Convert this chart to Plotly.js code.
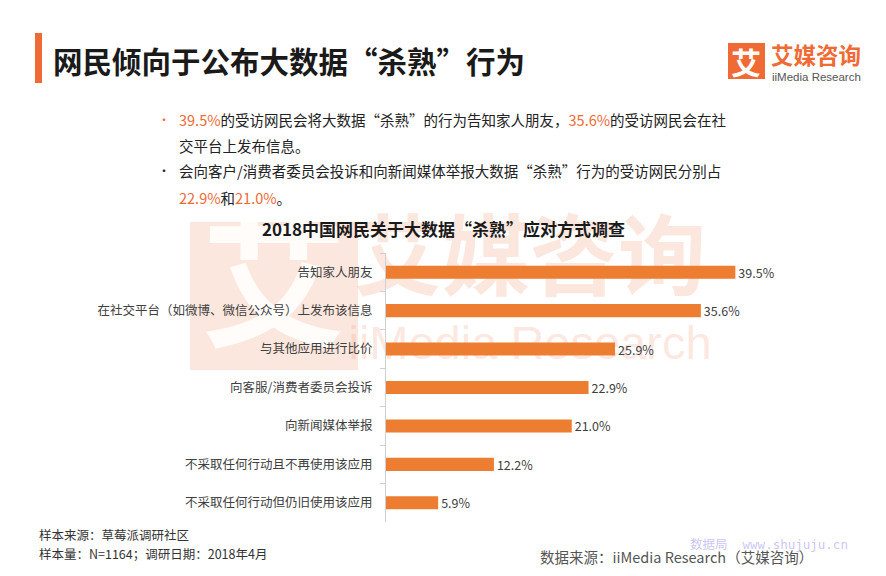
<!DOCTYPE html>
<html>
<head>
<meta charset="utf-8">
<script src="https://cdn.plot.ly/plotly-3.0.1.min.js"></script>
<style>
html,body{margin:0;padding:0;background:#fff;}
#chart{width:886px;height:576px;}
</style>
</head>
<body>
<div id="chart"></div>
<script>
// ---- data ----
const categories = [
  "告知家人朋友",
  "在社交平台（如微博、微信公众号）上发布该信息",
  "与其他应用进行比价",
  "向客服/消费者委员会投诉",
  "向新闻媒体举报",
  "不采取任何行动且不再使用该应用",
  "不采取任何行动但仍旧使用该应用"
];
const values = [39.5, 35.6, 25.9, 22.9, 21.0, 12.2, 5.9];
const valueLabels = ["39.5%", "35.6%", "25.9%", "22.9%", "21.0%", "12.2%", "5.9%"];

const pageTitle = "网民倾向于公布大数据“杀熟”行为";
const chartTitle = "2018中国网民关于大数据“杀熟”应对方式调查";
const sourceLines = ["样本来源：草莓派调研社区", "样本量：N=1164；调研日期：2018年4月"];
const dataSource = "数据来源：iiMedia Research（艾媒咨询）";

// ---- layout helpers (pixel -> paper) ----
const W = 886, H = 576;
const L = 386, R = 784, T = 253, B = 522;
const px = x => (x - L) / (R - L);
const py = y => (B - y) / (B - T);

const ORANGE = "#ed7d31";
const ACCENT = "#f06a35";
const WM = "rgba(240,110,60,0.17)";
const CJK = "'Noto Sans CJK SC', 'Noto Sans', sans-serif";

const trace = {
  type: "bar",
  orientation: "h",
  y: categories,
  x: values,
  text: valueLabels,
  textposition: "outside",
  constraintext: "none",
  cliponaxis: false,
  textfont: {family: CJK, size: 12.5, color: "#404040"},
  marker: {color: ORANGE},
  width: 0.34,
  hoverinfo: "none"
};

const pct = s => `<span style="color:${ACCENT}">${s}</span>`;

const annotations = [
  // page title
  {text: pageTitle, x: px(51), y: py(60), xanchor: "left", yanchor: "middle",
   font: {family: CJK, size: 29.5, color: "#1a1a1a", weight: 600}},
  // logo
  {text: "艾媒咨询", x: px(769), y: py(54), xanchor: "left", yanchor: "middle",
   font: {family: CJK, size: 22.5, color: ACCENT, weight: 600}},
  {text: "iiMedia Research", x: px(770), y: py(77), xanchor: "left", yanchor: "middle",
   font: {family: "Arial, 'Liberation Sans', sans-serif", size: 11.5, color: "#555"}},
  {text: "艾", x: px(746), y: py(61), xanchor: "center", yanchor: "middle",
   font: {family: CJK, size: 30, color: "#ffffff", weight: 700}},
  // bullets
  {text: "•", x: px(156), y: py(119), xanchor: "left", yanchor: "middle",
   font: {family: CJK, size: 12, color: ACCENT}},
  {text: pct("39.5%") + "的受访网民会将大数据“杀熟”的行为告知家人朋友，" + pct("35.6%") + "的受访网民会在社",
   x: px(177), y: py(119), xanchor: "left", yanchor: "middle",
   font: {family: CJK, size: 14.5, color: "#222"}},
  {text: "交平台上发布信息。", x: px(177), y: py(145), xanchor: "left", yanchor: "middle",
   font: {family: CJK, size: 14.5, color: "#222"}},
  {text: "•", x: px(156), y: py(171), xanchor: "left", yanchor: "middle",
   font: {family: CJK, size: 12, color: "#222"}},
  {text: "会向客户/消费者委员会投诉和向新闻媒体举报大数据“杀熟”行为的受访网民分别占",
   x: px(177), y: py(171), xanchor: "left", yanchor: "middle",
   font: {family: CJK, size: 14.5, color: "#222"}},
  {text: pct("22.9%") + "和" + pct("21.0%") + "。", x: px(177), y: py(197), xanchor: "left", yanchor: "middle",
   font: {family: CJK, size: 14.5, color: "#222"}},
  // chart title
  {text: chartTitle, x: px(443), y: py(228), xanchor: "center", yanchor: "middle",
   font: {family: CJK, size: 17, color: "#1a1a1a", weight: 700}},
  // footer
  {text: sourceLines[0], x: px(37), y: py(534), xanchor: "left", yanchor: "middle",
   font: {family: CJK, size: 12.5, color: "#333"}},
  {text: sourceLines[1], x: px(37), y: py(553), xanchor: "left", yanchor: "middle",
   font: {family: CJK, size: 12.5, color: "#333"}},
  {text: "数据局  www.shujuju.cn", x: px(688), y: py(544), xanchor: "left", yanchor: "middle",
   font: {family: "'DejaVu Sans Mono', " + CJK, size: 12.5, color: "rgba(150,140,230,0.5)"}},
  {text: dataSource, x: px(538), y: py(556), xanchor: "left", yanchor: "middle",
   font: {family: CJK, size: 14.5, color: "#555"}}
];
annotations.forEach(a => { a.xref = "paper"; a.yref = "paper"; a.showarrow = false; });

const shapes = [
  // title accent bar
  {type: "rect", xref: "paper", yref: "paper", x0: px(35), x1: px(42), y0: py(33), y1: py(83),
   fillcolor: ACCENT, line: {width: 0}, layer: "above"},
  // logo square
  {type: "rect", xref: "paper", yref: "paper", x0: px(728), x1: px(765), y0: py(43), y1: py(79),
   fillcolor: ACCENT, line: {width: 0}, layer: "below"},
  // watermark square
  {type: "rect", xref: "paper", yref: "paper", x0: px(190), x1: px(358), y0: py(222), y1: py(370),
   fillcolor: WM, line: {width: 0}, layer: "below",
   label: {text: "艾", font: {family: CJK, size: 145, color: "rgba(255,255,255,0.85)", weight: 700},
           textposition: "middle center"}},
  // watermark text
  {type: "rect", xref: "paper", yref: "paper", x0: px(350), x1: px(710), y0: py(222), y1: py(305),
   fillcolor: "rgba(0,0,0,0)", line: {width: 0}, layer: "below",
   label: {text: "艾媒咨询", font: {family: CJK, size: 88, color: WM, weight: 700},
           textposition: "middle center"}},
  {type: "rect", xref: "paper", yref: "paper", x0: px(350), x1: px(710), y0: py(315), y1: py(362),
   fillcolor: "rgba(0,0,0,0)", line: {width: 0}, layer: "below",
   label: {text: "iiMedia Research", font: {family: "Arial, 'Liberation Sans', sans-serif", size: 47, color: WM},
           textposition: "middle center"}}
];

const layout = {
  width: W, height: H,
  margin: {l: L, r: W - R, t: T, b: H - B, pad: 0},
  paper_bgcolor: "rgba(0,0,0,0)",
  plot_bgcolor: "rgba(0,0,0,0)",
  showlegend: false,
  xaxis: {range: [0, 45], visible: false, fixedrange: true},
  yaxis: {
    type: "category",
    autorange: "reversed",
    showline: true, linecolor: "#d0d0d0", linewidth: 1,
    ticks: "outside", tickson: "boundaries", ticklen: 5, tickcolor: "#d0d0d0",
    showgrid: false, zeroline: false,
    tickfont: {family: CJK, size: 12.5, color: "#404040"},
    ticklabelstandoff: 10,
    fixedrange: true
  },
  annotations: annotations,
  shapes: shapes
};

Plotly.newPlot("chart", [trace], layout, {displayModeBar: false, staticPlot: true});
</script>
</body>
</html>
